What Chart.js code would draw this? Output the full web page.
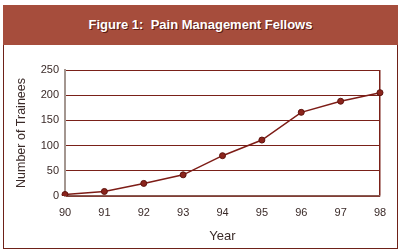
<!DOCTYPE html>
<html>
<head>
<meta charset="utf-8">
<script src="https://cdn.jsdelivr.net/npm/chart.js@4"></script>
<style>
  body { margin: 0; background: #fff; }
  #wrap { position: relative; width: 400px; height: 252px; }
  #frame {
    position: absolute; left: 3px; top: 5px; width: 393px; height: 242px;
    border: 1px solid #6e2118;
  }
  #band {
    position: absolute; left: 3px; top: 5px; width: 395px; height: 40px;
    background: #a64d3c;
    color: #fff; font: bold 13px "Liberation Sans", Arial, sans-serif;
    text-align: center; line-height: 40px;
    text-shadow: 1px 1px 0 #5a1a12;
  }
  canvas { position: absolute; left: 0; top: 0; }
</style>
</head>
<body>
<div id="wrap">
  <div id="frame"></div>
  <div id="band">Figure 1:&nbsp; Pain Management Fellows</div>
  <canvas id="chart" width="400" height="252"></canvas>
</div>
<script>
// DATA
const years = ["90", "91", "92", "93", "94", "95", "96", "97", "98"];
const trainees = [3, 9, 25, 42, 80, 111, 166, 188, 205];
const yTicks = [0, 50, 100, 150, 200, 250];

const DARK = "#7a2119";
const FONT = "'Liberation Sans', Arial, sans-serif";

const ctx = document.getElementById("chart").getContext("2d");

new Chart(ctx, {
  type: "line",
  data: {
    labels: years,
    datasets: [{
      label: "Number of Trainees",
      data: trainees,
      borderColor: "#7d1c16",
      borderWidth: 1.5,
      pointRadius: 3,
      pointBackgroundColor: "#8b241c",
      pointBorderColor: "#5e120d",
      pointBorderWidth: 1,
      tension: 0
    }]
  },
  options: {
    responsive: false,
    animation: false,
    layout: { padding: { left: 4, right: 20, top: 70, bottom: 4 } },
    plugins: {
      legend: { display: false },
      tooltip: { enabled: false }
    },
    scales: {
      x: {
        offset: false,
        afterFit: s => { s.height = 52; },
        grid: {
          drawTicks: false,
          color: c => c.index === years.length - 1 ? DARK : "transparent",
          lineWidth: 1.5
        },
        border: { color: "#8a5a52", width: 1.5 },
        ticks: { color: "#3a2a28", font: { family: FONT, size: 11 }, padding: 10 },
        title: {
          display: true, text: "Year", color: "#3a2a28",
          font: { family: FONT, size: 13 }, padding: { top: 3 }
        }
      },
      y: {
        min: 0,
        max: 250,
        afterFit: s => { s.width = 61; },
        afterBuildTicks: s => { s.ticks = yTicks.map(v => ({ value: v })); },
        grid: { drawTicks: false, color: DARK, lineWidth: 1 },
        border: { color: "#a39690", width: 2 },
        ticks: { color: "#3a2a28", font: { family: FONT, size: 11 }, padding: 6 },
        title: {
          display: true, text: "Number of Trainees", color: "#3a2a28",
          font: { family: FONT, size: 12.5 }, padding: { top: 10, bottom: 4 }
        }
      }
    }
  }
});
</script>
</body>
</html>
